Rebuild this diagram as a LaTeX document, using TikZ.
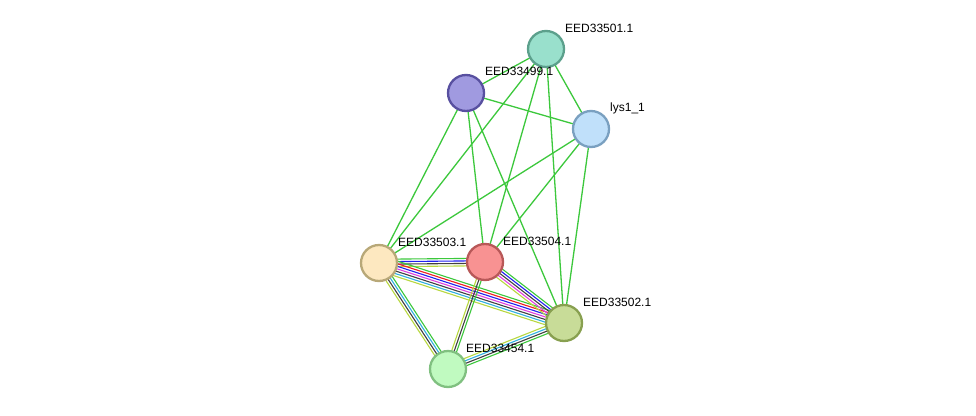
\documentclass[tikz,border=0pt]{standalone}
\usepackage{fontspec}
\setmainfont{Liberation Sans}
\usetikzlibrary{calc}
\definecolor{eg}{HTML}{3CC83C}
\definecolor{eb}{HTML}{2020F0}
\definecolor{ek}{HTML}{404040}
\definecolor{er}{HTML}{F02020}
\definecolor{em}{HTML}{E040E0}
\definecolor{ec}{HTML}{30B0E0}
\definecolor{ey}{HTML}{B8D840}
\tikzset{
  prot/.style={circle, minimum size=36pt, inner sep=0pt, line width=2.3pt},
  lab/.style={font=\fontsize{12}{14}\selectfont, anchor=west, inner sep=1pt},
  edge/.style={eg, line width=1.3pt},
  ml/.style={line width=1.1pt}
}
\newcommand{\medge}[4]{% n, a, b, colors
  \foreach \c [count=\i] in {#4} {
    \pgfmathsetmacro{\off}{(#1-1)*1.25-(\i-1)*2.5}
    \draw[ml, draw=\c] ($(#2)!\off pt!90:(#3)$) -- ($(#3)!\off pt!-90:(#2)$);
  }
}
\begin{document}
\begin{tikzpicture}[x=1pt,y=-1pt]
\useasboundingbox[fill=white] (0,0) rectangle (976,415);
\coordinate (p501) at (546,49);
\coordinate (p499) at (466,93);
\coordinate (plys) at (591,129);
\coordinate (p503) at (379,263);
\coordinate (p504) at (485,262);
\coordinate (p502) at (564,323);
\coordinate (p454) at (448,369);
% green edges
\draw[edge] (p501) -- (p499);
\draw[edge] (p501) -- (plys);
\draw[edge] (p501) -- (p503);
\draw[edge] (p501) -- (p504);
\draw[edge] (p501) -- (p502);
\draw[edge] (p499) -- (plys);
\draw[edge] (p499) -- (p503);
\draw[edge] (p499) -- (p504);
\draw[edge] (p499) -- (p502);
\draw[edge] (plys) -- (p503);
\draw[edge] (plys) -- (p504);
\draw[edge] (plys) -- (p502);
% multi edges
\medge{4}{p503}{p504}{eg,eb,ek,ey}
\medge{7}{p503}{p502}{eg,er,eb,em,ek,ec,ey}
\medge{5}{p504}{p502}{eg,eb,ek,em,ey}
\medge{4}{p503}{p454}{eg,ec,ek,ey}
\medge{3}{p504}{p454}{eg,ek,ey}
\medge{4}{p502}{p454}{eg,ek,ec,ey}
% nodes
\node[prot, fill={rgb,255:red,153;green,224;blue,204}, draw={rgb,255:red,92;green,160;blue,140}] (n501) at (p501) {};
\node[prot, fill={rgb,255:red,160;green,154;blue,224}, draw={rgb,255:red,88;green,80;blue,160}] (n499) at (p499) {};
\node[prot, fill={rgb,255:red,192;green,224;blue,250}, draw={rgb,255:red,122;green,160;blue,192}] (nlys) at (plys) {};
\node[prot, fill={rgb,255:red,253;green,232;blue,192}, draw={rgb,255:red,184;green,168;blue,120}] (n503) at (p503) {};
\node[prot, fill={rgb,255:red,248;green,146;blue,146}, draw={rgb,255:red,184;green,88;blue,88}] (n504) at (p504) {};
\node[prot, fill={rgb,255:red,200;green,220;blue,152}, draw={rgb,255:red,136;green,160;blue,80}] (n502) at (p502) {};
\node[prot, fill={rgb,255:red,192;green,250;blue,192}, draw={rgb,255:red,128;green,192;blue,128}] (n454) at (p454) {};
% labels
\node[lab] (l501) at (564,28) {EED33501.1};
\node[lab] (l499) at (484,71) {EED33499.1};
\node[lab] (llys) at (609,108) {lys1\_1};
\node[lab] (l503) at (397,242) {EED33503.1};
\node[lab] (l504) at (502,241) {EED33504.1};
\node[lab] (l502) at (582,302) {EED33502.1};
\node[lab] (l454) at (465,348) {EED33454.1};
\end{tikzpicture}
\end{document}
